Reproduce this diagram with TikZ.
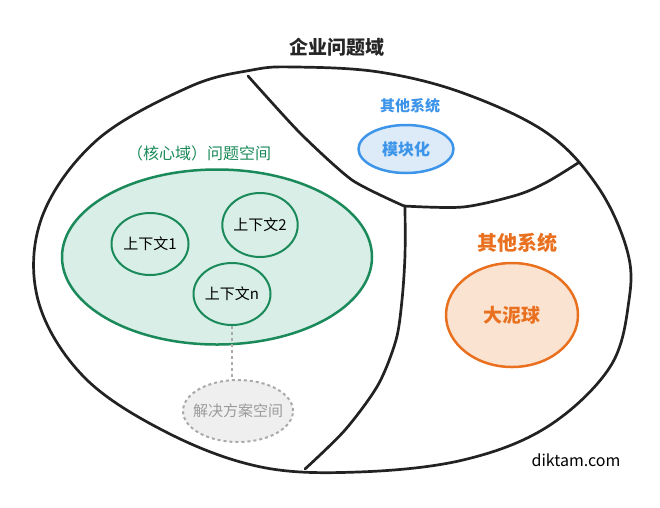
\documentclass[tikz,border=0pt]{standalone}
\usepackage{fontspec}
\setmainfont{Noto Sans CJK SC}
\usetikzlibrary{shapes.geometric}
\definecolor{domcolor}{HTML}{222222}
\definecolor{coreline}{HTML}{1B8A5A}
\definecolor{corefill}{HTML}{D8EEE7}
\definecolor{modline}{HTML}{3D95EA}
\definecolor{modfill}{HTML}{DDEBF9}
\definecolor{mudline}{HTML}{E8701E}
\definecolor{mudfill}{HTML}{FBE3D2}
\definecolor{solline}{HTML}{AAAAAA}
\definecolor{solfill}{HTML}{EFEFEF}
\definecolor{soltext}{HTML}{9A9A9A}
\tikzset{
  ctxbox/.style={ellipse, draw=coreline, fill=corefill, line width=2pt, inner sep=0pt,
    minimum width=77pt, minimum height=62pt, font=\fontsize{15}{17}\selectfont},
  tagbox/.style={fill=white, inner sep=2pt},
  domborder/.style={domcolor, line width=2.7pt, line cap=round, line join=round},
}
\begin{document}
\begin{tikzpicture}[x=1pt, y=-1pt]
	\useasboundingbox (0,0) rectangle (660,507);
	\fill[white] (0,0) rectangle (660,507);
	% enterprise problem domain and its borders
	\draw[domborder] plot[smooth cycle, tension=0.6] coordinates {(295,67) (379,72) (463,93) (547,133) (598,187) (627,250) (629,300) (610,367) (547,427) (463,460) (358,472) (261,467) (168,433) (84,377) (38,300) (42,217) (97,140) (189,87) (252,70)};
	\draw[domborder] plot[smooth, tension=0.4] coordinates {(248,76) (300,133) (352,180) (404,206)};
	\draw[domborder] plot[smooth, tension=0.5] coordinates {(404,206) (463,207) (517,195) (547,182) (578,163)};
	\draw[domborder] plot[smooth, tension=0.5] coordinates {(405,206) (405,255) (402,300) (396,340) (378,385) (345,430) (305,469)};
	\node[tagbox, text=black!85, font=\fontsize{19}{21}\selectfont\bfseries] (title) at (337,47) {企业问题域};
	% core domain
	\node[ellipse, draw=coreline, fill=corefill, line width=2.5pt, minimum width=310pt, minimum height=175pt] (core) at (217,257) {};
	\node[tagbox, text=coreline, font=\fontsize{16}{18}\selectfont] (corelbl) at (199,153) {（核心域）问题空间};
	\node[ctxbox] (ctx1) at (150,244) {上下文1};
	\node[ctxbox, minimum width=75pt, minimum height=64pt] (ctx2) at (260,225) {上下文2};
	\node[ctxbox] (ctxn) at (232,294) {上下文n};
	% solution space
	\node[ellipse, draw=solline, dashed, fill=solfill, line width=2pt, minimum width=110pt, minimum height=62pt,
	  label={[text=soltext, font=\fontsize{15}{17}\selectfont]center:解决方案空间}] (sol) at (238,411) {};
	\draw[solline, dashed, line width=2pt] (ctxn.south) -- (ctxn.south |- sol.north);
	% other systems
	\node[tagbox, text=modline, font=\fontsize{15}{17}\selectfont\bfseries] (modlbl) at (410,106) {其他系统};
	\node[ellipse, draw=modline, fill=modfill, line width=2.5pt, inner sep=0pt, minimum width=95pt, minimum height=48pt,
	  text=modline, font=\fontsize{16}{18}\selectfont\bfseries] (mod) at (406,149) {模块化};
	\node[tagbox, text=mudline, font=\fontsize{20}{22}\selectfont\bfseries] (mudlbl) at (517,243) {其他系统};
	\node[ellipse, draw=mudline, fill=mudfill, line width=2.5pt, inner sep=0pt, minimum width=132pt, minimum height=104pt,
	  text=mudline, font=\fontsize{19}{21}\selectfont\bfseries] (mud) at (512,315) {大泥球};
	\node[tagbox, text=black, font=\fontsize{16}{18}\selectfont] (mark) at (576,460) {diktam.com};
\end{tikzpicture}
\end{document}
